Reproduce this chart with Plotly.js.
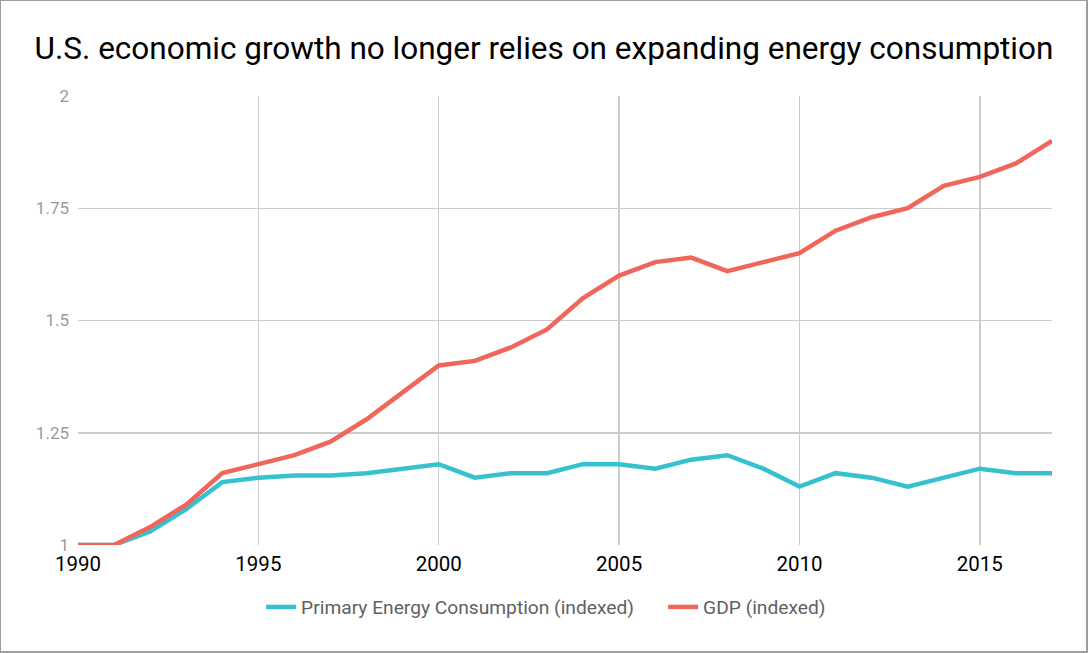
<!DOCTYPE html>
<html>
<head>
<meta charset="utf-8">
<script src="https://cdn.plot.ly/plotly-3.0.1.min.js"></script>
<style>
html,body{margin:0;padding:0;background:#fff;}
#wrap{position:relative;width:1088px;height:653px;}
#chart{width:1088px;height:653px;}
#frame{position:absolute;left:0;top:0;width:1088px;height:653px;box-sizing:border-box;border:1px solid #9e9e9e;border-right:2px solid #9e9e9e;border-bottom:2px solid #9e9e9e;pointer-events:none;}
</style>
</head>
<body>
<div id="wrap"><div id="chart"></div><div id="frame"></div></div>
<script>
const years = [1990,1991,1992,1993,1994,1995,1996,1997,1998,1999,2000,2001,2002,2003,2004,2005,2006,2007,2008,2009,2010,2011,2012,2013,2014,2015,2016,2017];
const energy = [1.00,1.00,1.03,1.08,1.14,1.15,1.155,1.155,1.16,1.17,1.18,1.15,1.16,1.16,1.18,1.18,1.17,1.19,1.20,1.17,1.13,1.16,1.15,1.13,1.15,1.17,1.16,1.16];
const gdp = [1.00,1.00,1.04,1.09,1.16,1.18,1.20,1.23,1.28,1.34,1.40,1.41,1.44,1.48,1.55,1.60,1.63,1.64,1.61,1.63,1.65,1.70,1.73,1.75,1.80,1.82,1.85,1.90];
const yTicks = [1,1.25,1.5,1.75,2];
const yTickText = ['1','1.25','1.5','1.75','2'];
const xTicks = [1990,1995,2000,2005,2010,2015];

const traces = [
  {x: years, y: energy, type: 'scatter', mode: 'lines', name: 'Primary Energy Consumption (indexed)',
   line: {color: '#36c1cf', width: 4.5}},
  {x: years, y: gdp, type: 'scatter', mode: 'lines', name: 'GDP (indexed)',
   line: {color: '#f1665a', width: 4.5}}
];

const layout = {
  width: 1088, height: 653,
  margin: {l: 78, r: 36, t: 96, b: 108},
  paper_bgcolor: '#fff', plot_bgcolor: '#fff',
  font: {family: 'Roboto, sans-serif'},
  title: {text: 'U.S. economic growth no longer relies on expanding energy consumption',
          font: {family: 'Roboto, sans-serif', size: 31.5, color: '#000'},
          x: 0.5, xanchor: 'center', y: 0.926, yanchor: 'middle'},
  xaxis: {range: [1990, 2017], tickvals: xTicks, ticktext: xTicks.map(String),
          showgrid: true, gridcolor: '#cccccc', gridwidth: 1.5, zeroline: false,
          showline: false, ticks: '', ticklabelstandoff: 4,
          tickfont: {size: 20.5, color: '#000'}, fixedrange: true},
  yaxis: {range: [1, 2], tickvals: yTicks, ticktext: yTickText,
          showgrid: true, gridcolor: '#cccccc', gridwidth: 1.5, zeroline: false,
          showline: false, ticks: '', ticklabelstandoff: 8,
          tickfont: {size: 17, color: '#9a9a9a'}, fixedrange: true},
  showlegend: true,
  legend: {orientation: 'h', x: 0.188, xanchor: 'left', y: -0.138, yanchor: 'middle',
           font: {size: 19.2, color: '#616161'}, itemwidth: 30, tracegroupgap: 0,
           entrywidth: 357}
};

Plotly.newPlot('chart', traces, layout, {displayModeBar: false, staticPlot: true});
</script>
</body>
</html>
